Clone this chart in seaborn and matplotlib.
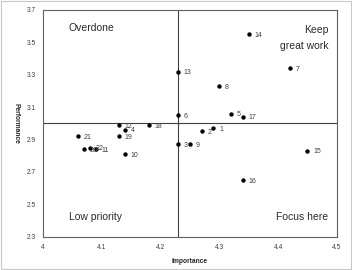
import pandas as pd
import seaborn as sns
import matplotlib.pyplot as plt

# Importance / performance per item
labels = ['1', '2', '3', '4', '5', '6', '7', '8', '9', '10', '11',
          '12', '13', '14', '15', '16', '17', '18', '19', '20', '21', '22']
importance = [4.29, 4.27, 4.23, 4.14, 4.32, 4.23, 4.42, 4.30, 4.25, 4.14, 4.09,
              4.13, 4.23, 4.35, 4.45, 4.34, 4.34, 4.18, 4.13, 4.07, 4.06, 4.08]
performance = [2.97, 2.95, 2.87, 2.96, 3.06, 3.05, 3.34, 3.23, 2.87, 2.81, 2.84,
               2.99, 3.32, 3.55, 2.83, 2.65, 3.04, 2.99, 2.92, 2.84, 2.92, 2.85]

imp_mean = 4.23
perf_mean = 3.0

df = pd.DataFrame({'Importance': importance, 'Performance': performance, 'label': labels})

sns.set_style('white')
plt.rcParams['font.family'] = ['Liberation Sans', 'DejaVu Sans']

fig = plt.figure(figsize=(3.52, 2.7), dpi=100)
ax = fig.add_axes([0.122, 0.123, 0.835, 0.840])

sns.scatterplot(data=df, x='Importance', y='Performance', color='black',
                s=10, edgecolor='black', linewidth=0, ax=ax, zorder=3)

for _, r in df.iterrows():
    ax.annotate(r['label'], (r['Importance'], r['Performance']),
                xytext=(4, -1.8), textcoords='offset points',
                fontsize=5, color='#404040')

ax.axvline(imp_mean, color='#404040', lw=0.8, zorder=1)
ax.axhline(perf_mean, color='#404040', lw=0.8, zorder=1)

ax.set_xlim(4, 4.5)
ax.set_ylim(2.3, 3.7)
ax.set_xticks([4, 4.1, 4.2, 4.3, 4.4, 4.5])
ax.set_xticklabels(['4', '4.1', '4.2', '4.3', '4.4', '4.5'])
ax.set_yticks([2.3, 2.5, 2.7, 2.9, 3.1, 3.3, 3.5, 3.7])
ax.tick_params(labelsize=4.8, colors='#404040', length=2, width=0.6, pad=3)

ax.set_xlabel('Importance', fontsize=4.8, fontweight='bold', labelpad=5)
ax.set_ylabel('Performance', fontsize=4.8, fontweight='bold', rotation=270,
              labelpad=10, va='bottom')

for sp in ax.spines.values():
    sp.set_color('#606060')
    sp.set_linewidth(0.8)

qfont = dict(fontsize=7.5, color='#2a2a2a')
ax.text(4.044, 3.59, 'Overdone', ha='left', va='center', **qfont)
ax.text(4.485, 3.575, 'Keep', ha='right', va='center', **qfont)
ax.text(4.485, 3.478, 'great work', ha='right', va='center', **qfont)
ax.text(4.044, 2.423, 'Low priority', ha='left', va='center', **qfont)
ax.text(4.485, 2.423, 'Focus here', ha='right', va='center', **qfont)

# light outer chart border
fig.patches.append(plt.Rectangle((0.003, 0.004), 0.994, 0.992, transform=fig.transFigure,
                                 fill=False, edgecolor='#c8c8c8', linewidth=0.8))

fig.savefig('out.png', dpi=100)
